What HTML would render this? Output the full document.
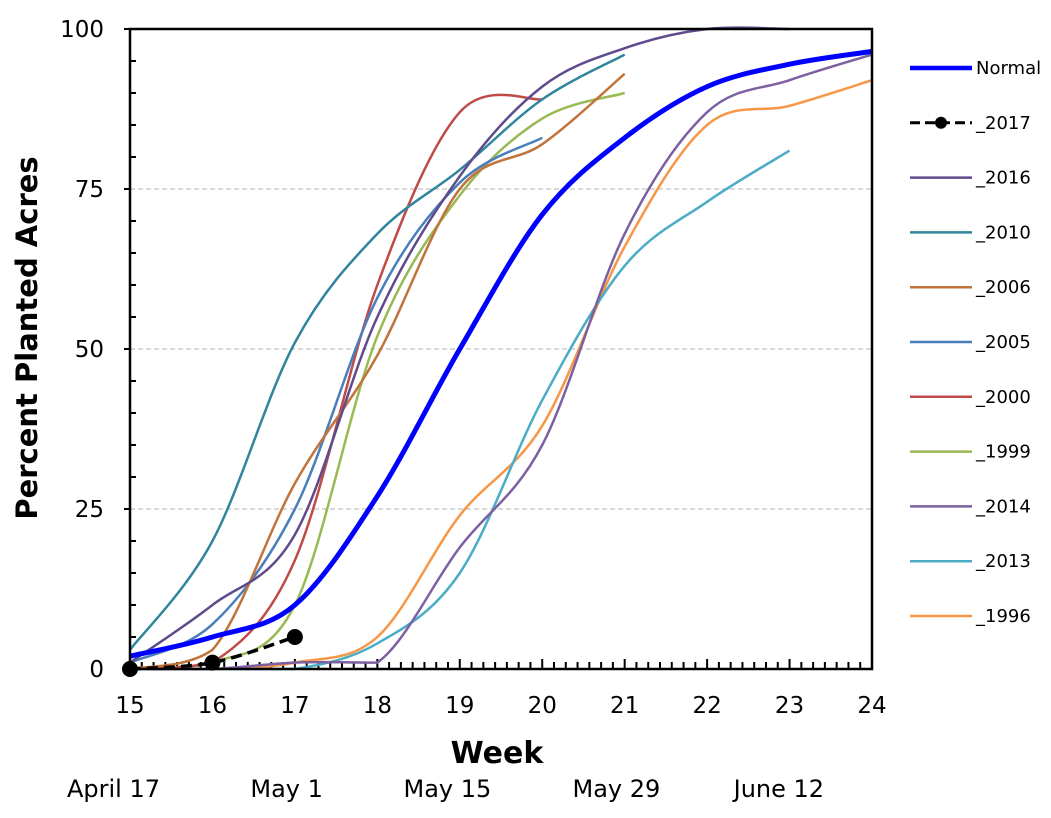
<!DOCTYPE html>
<html><head><meta charset="utf-8"><style>
body{margin:0;background:#fff;}
svg text{font-family:"DejaVu Sans","Liberation Sans",sans-serif;}
</style></head><body>
<svg id="c" width="1051" height="813" xmlns="http://www.w3.org/2000/svg"></svg>
<script>
const weeks=[15,16,17,18,19,20,21,22,23,24];
const normal=[2,5,10,27,50,71,83,91,94.5,96.5];
const y2017=[0,1,5];
const y2016=[1,10,21,55,77,91,97,100,100];
const y2010=[3,20,51,68,78,89,96];
const y2006=[0,3,29,49,75,82,93];
const y2005=[1,7,25,58,76,83];
const y2000=[0,1,17,60,87,89];
const y1999=[0,1,10,52,74,86,90];
const y2014=[0,0,1,1,19,35,68,87,92,96];
const y2013=[0,0,0,4,15,42,63,73,81];
const y1996=[0,0,1,5,24,38,66,85,88,92];
const yTicks=[0,25,50,75,100];
const xTicks=[15,16,17,18,19,20,21,22,23,24];
const dateLabels=["April 17","May 1","May 15","May 29","June 12"];
const dateWeeks=[14.8,16.9,18.85,20.9,22.87];

const L=130,R=872,T=29,B=669;
const X=w=>L+(w-15)*(R-L)/9, Y=v=>B-(v/100)*(B-T);
const svg=document.getElementById('c');const NS='http://www.w3.org/2000/svg';
function mk(t,a,p){const e=document.createElementNS(NS,t);for(const k in a)e.setAttribute(k,a[k]);(p||svg).appendChild(e);return e;}
function txt(s,a){const e=mk('text',a);e.textContent=s;return e;}
yTicks.slice(1,4).forEach(v=>{const g=mk('line',{x1:L,x2:R,y1:Y(v),y2:Y(v),stroke:'#b0b0b0','stroke-dasharray':'5,3','stroke-width':1});

});
for(let v=0;v<=100;v+=5){const t=mk('line',{x1:L,x2:L+(v%25?6:-6),y1:Y(v),y2:Y(v),stroke:'#000','stroke-width':2});

}
for(let d=0;d<=63;d++){const x=X(15+d/7);const t=mk('line',{x1:x,x2:x,y1:B,y2:B-(d%7?7:10),stroke:'#000','stroke-width':2});

}
yTicks.forEach(v=>{const t=txt(String(v),{x:104,y:Y(v)+8,'font-size':23,'text-anchor':'end'});

});
xTicks.forEach(w=>{const t=txt(String(w),{x:X(w),y:B+44,'font-size':23,'text-anchor':'middle'});

});
dateLabels.forEach((s,i)=>{const t=txt(s,{x:X(dateWeeks[i]),y:797,'font-size':24,'text-anchor':'middle'});

});
let t=txt('Week',{x:497,y:763,'font-size':30,'font-weight':'bold','text-anchor':'middle'});


t=txt('Percent Planted Acres',{x:0,y:0,'font-size':29,'font-weight':'bold','text-anchor':'middle',transform:'translate(37,338) rotate(-90)'});


function path(vals){const p=vals.map((v,i)=>[X(weeks[i]),Y(v)]);let d='M'+p[0][0]+','+p[0][1];
for(let i=0;i<p.length-1;i++){const p0=p[i-1]||p[i],p1=p[i],p2=p[i+1],p3=p[i+2]||p2;
const lo=Math.max(p1[1],p2[1]);
const c1=[p1[0]+(p2[0]-p0[0])/6,Math.min(lo,p1[1]+(p2[1]-p0[1])/6)],c2=[p2[0]-(p3[0]-p1[0])/6,Math.min(lo,p2[1]-(p3[1]-p1[1])/6)];
d+=` C${c1[0]},${c1[1]} ${c2[0]},${c2[1]} ${p2[0]},${p2[1]}`;}return d;}
const series=[["_1996",y1996,'#f79646'],["_2013",y2013,'#4bacc6'],["_2014",y2014,'#7d60a0'],["_1999",y1999,'#98b954'],["_2000",y2000,'#be4b48'],["_2005",y2005,'#4a7ebb'],["_2006",y2006,'#c0733a'],["_2010",y2010,'#31859c'],["_2016",y2016,'#5f4b8b']];
series.forEach(s=>{const e=mk('path',{d:path(s[1]),fill:'none',stroke:s[2],'stroke-width':2.5});

});
let e=mk('path',{d:path(normal),fill:'none',stroke:'#0000ff','stroke-width':5});


e=mk('path',{d:path(y2017),fill:'none',stroke:'#000','stroke-width':3.5,'stroke-dasharray':'11,6'});


y2017.forEach((v,i)=>{const c=mk('circle',{cx:X(weeks[i]),cy:Y(v),r:8,fill:'#000'});

});
e=mk('rect',{x:L,y:T,width:R-L,height:B-T,fill:'none',stroke:'#000','stroke-width':2.5});


const leg=[["Normal",'#0000ff',4.5],["_2017",'#000',3],["_2016",'#5f4b8b',2.5],["_2010",'#31859c',2.5],["_2006",'#c0733a',2.5],["_2005",'#4a7ebb',2.5],["_2000",'#be4b48',2.5],["_1999",'#98b954',2.5],["_2014",'#7d60a0',2.5],["_2013",'#4bacc6',2.5],["_1996",'#f79646',2.5]];
leg.forEach((l,i)=>{const y=68+i*54.8;const g=mk('g',{});


mk('line',{x1:910,x2:972,y1:y,y2:y,stroke:l[1],'stroke-width':l[2],'stroke-dasharray':i==1?'10,5':'none'},g);
if(i==1)mk('circle',{cx:941,cy:y,r:6,fill:'#000'},g);
const tt=mk('text',{x:976,y:y+6,'font-size':18},g);tt.textContent=l[0];});
</script></body></html>
